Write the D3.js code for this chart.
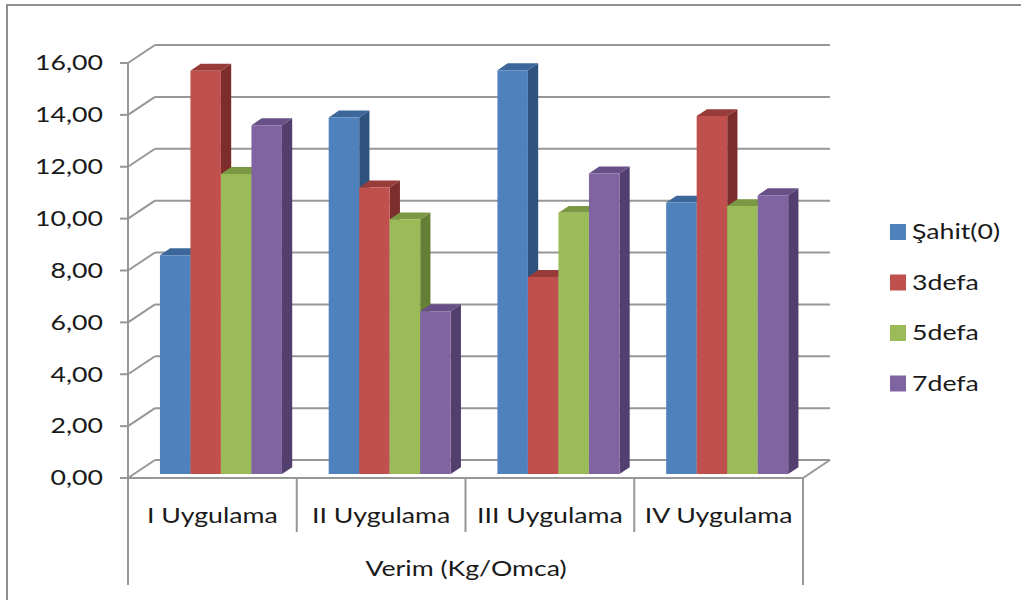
<!DOCTYPE html>
<html>
<head>
<meta charset="utf-8">
<script src="https://cdn.jsdelivr.net/npm/d3@7"></script>
<style>
  html, body { margin: 0; padding: 0; background: #fff; }
  svg { display: block; font-family: Lato, "Open Sans", sans-serif; }
</style>
</head>
<body>
<svg id="chart" width="1021" height="600"></svg>
<script>
// Verim (Kg/Omca) per application and treatment
const categories = ["I Uygulama", "II Uygulama", "III Uygulama", "IV Uygulama"];
const seriesNames = ["Şahit(0)", "3defa", "5defa", "7defa"];
const sahit = [8.44, 13.75, 15.57, 10.47];
const defa3 = [15.55, 11.05, 7.60, 13.80];
const defa5 = [11.57, 9.82, 10.07, 10.33];
const defa7 = [13.45, 6.28, 11.59, 10.75];
const yTicks = [0, 2, 4, 6, 8, 10, 12, 14, 16];
const axisTitle = "Verim (Kg/Omca)";

const seriesValues = [sahit, defa3, defa5, defa7];
const faceColors = [
  { front: "#4F81BD", top: "#3D679A", side: "#30527F" },
  { front: "#C0504D", top: "#983C3A", side: "#7D2D2B" },
  { front: "#9BBB59", top: "#7B9844", side: "#657F35" },
  { front: "#8064A2", top: "#675086", side: "#523F6E" }
];

const svg = d3.select("#chart");

// Front plane of the plot box and the oblique depth vector
const left = 128, right = 803;
const depth = { dx: 27, dy: -18 };
const y = d3.scaleLinear().domain([0, 16]).range([478, 63]);
const x0 = d3.scaleBand().domain(categories).range([left, right]).padding(0);
const x1 = d3.scaleBand().domain(seriesNames).range([0, 122]).padding(0);
const groupOffset = 26;

// bars occupy part of the depth, from f0 to f1
const f0 = 0.22, f1 = 0.60;
const proj = (px, py, f) => [px + depth.dx * f, py + depth.dy * f];

// text is set a little wide
const textScale = 1.27;
const fontSize = 21;
const placeText = (sel, fx, fy) =>
  sel.attr("transform", (d, i) => `translate(${fx(d, i)},${fy(d, i)}) scale(${textScale},1)`);

const gridColor = "#979797";
svg.append("path")
  .attr("d", "M7,600 L7,5 L1021,5")
  .attr("fill", "none").attr("stroke", "#8e8e8e").attr("stroke-width", 2);

// back wall gridlines and left wall diagonals
const walls = svg.append("g").attr("stroke", gridColor).attr("stroke-width", 2).attr("fill", "none");
yTicks.forEach(t => {
  const [bx, by] = proj(left, y(t), 1);
  const [ex] = proj(right, y(t), 1);
  walls.append("line").attr("x1", bx).attr("y1", by).attr("x2", ex).attr("y2", by);
  walls.append("line").attr("x1", left).attr("y1", y(t)).attr("x2", bx).attr("y2", by);
  walls.append("line").attr("x1", left - 8).attr("y1", y(t)).attr("x2", left).attr("y2", y(t));
});
// floor front-right edge
{
  const [bx, by] = proj(right, y(0), 1);
  walls.append("line").attr("x1", right).attr("y1", y(0)).attr("x2", bx).attr("y2", by);
}

// bars: side, top, front for each, left to right
const bars = svg.append("g");
categories.forEach((cat, ci) => {
  seriesNames.forEach((s, si) => {
    const v = seriesValues[si][ci];
    const xl = x0(cat) + groupOffset + x1(s);
    const xr = xl + x1.bandwidth();
    const c = faceColors[si];
    const fy = y(v), by0 = y(0);
    const A = proj(xl, fy, f0), B = proj(xr, fy, f0);
    const C = proj(xr, fy, f1), D = proj(xl, fy, f1);
    const E = proj(xr, by0, f0), F = proj(xr, by0, f1);
    const G = proj(xl, by0, f0);
    bars.append("polygon").attr("points", [B, C, F, E].join(" ")).attr("fill", c.side);
    bars.append("polygon").attr("points", [A, B, C, D].join(" ")).attr("fill", c.top);
    bars.append("polygon").attr("points", [A, B, E, G].join(" ")).attr("fill", c.front);
  });
});

// front value axis line and category axis frame
const axes = svg.append("g").attr("stroke", gridColor).attr("stroke-width", 2).attr("fill", "none");
axes.append("line").attr("x1", left).attr("y1", y(16)).attr("x2", left).attr("y2", 585);
axes.append("line").attr("x1", left).attr("y1", y(0)).attr("x2", right).attr("y2", y(0));
axes.append("line").attr("x1", right).attr("y1", y(0)).attr("x2", right).attr("y2", 585);
categories.slice(1).forEach(cat => {
  axes.append("line").attr("x1", x0(cat)).attr("y1", y(0)).attr("x2", x0(cat)).attr("y2", 532);
});

// value tick labels
const fmt = v => d3.format(".2f")(v).replace(".", ",");
svg.append("g").selectAll("text").data(yTicks).join("text")
  .call(placeText, () => 103, d => y(d))
  .attr("dy", "0.35em")
  .attr("text-anchor", "end").attr("font-size", fontSize).attr("fill", "#1a1a1a")
  .text(fmt);

// category labels and axis title
svg.append("g").selectAll("text").data(categories).join("text")
  .call(placeText, d => x0(d) + x0.bandwidth() / 2, () => 516)
  .attr("dy", "0.35em")
  .attr("text-anchor", "middle").attr("font-size", fontSize).attr("fill", "#1a1a1a")
  .text(d => d);
svg.append("text")
  .call(placeText, () => 466, () => 569)
  .attr("dy", "0.35em")
  .attr("text-anchor", "middle").attr("font-size", fontSize).attr("fill", "#1a1a1a")
  .text(axisTitle);

// legend
const legend = svg.append("g").selectAll("g").data(seriesNames).join("g")
  .attr("transform", (d, i) => `translate(890, ${232 + i * 50.5})`);
legend.append("rect").attr("x", 0).attr("y", -8).attr("width", 16).attr("height", 16)
  .attr("fill", (d, i) => faceColors[i].front);
legend.append("text")
  .call(placeText, () => 22, () => 0)
  .attr("dy", "0.35em")
  .attr("font-size", fontSize).attr("fill", "#1a1a1a").text(d => d);
</script>
</body>
</html>
